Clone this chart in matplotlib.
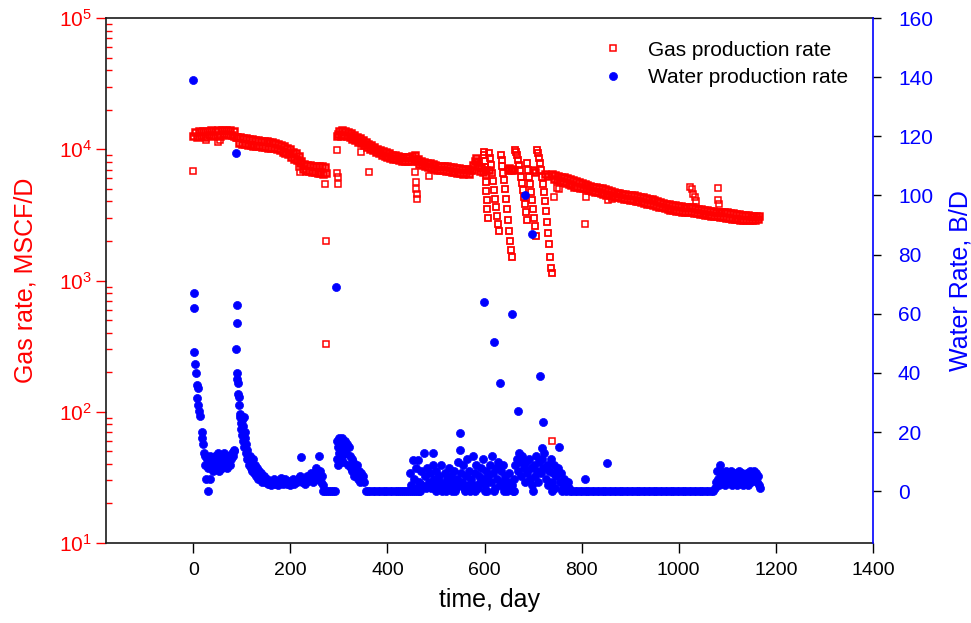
import numpy as np
import matplotlib
matplotlib.use("Agg")
import matplotlib.pyplot as plt
from matplotlib.ticker import FixedLocator, LogLocator, FuncFormatter

plt.rcParams['font.family'] = ['Liberation Sans', 'DejaVu Sans']

# ---------------- gas production (MSCF/D) ----------------
gas_trend_days = [
    0, 4, 8, 12, 16, 20, 24, 28, 32, 36, 40, 44, 48, 52, 56, 60, 64, 68, 72, 76, 80, 84, 88,
    91, 94, 97, 100, 103, 106, 109, 112, 115, 118, 121, 124, 127, 130, 133, 136, 139, 142, 145,
    148, 151, 154, 157, 160, 163, 166, 169, 172, 175, 178, 181, 184, 187, 190, 193, 196, 199,
    202, 205, 208, 211, 214, 217, 220, 223, 226, 229, 232, 235, 238, 241, 244, 247, 250, 253,
    256, 259, 262, 265, 268, 271, 274,
    297, 299, 301, 304, 307, 310, 313, 316, 319, 322, 325, 328, 331, 334, 337, 340, 343, 346,
    349, 352, 355, 358, 361, 364, 367, 370, 373, 376, 379, 382, 385, 388, 391, 394, 397, 400,
    403, 406, 409, 412, 415, 418, 421, 424, 427, 430, 433, 436, 439, 442, 445, 448, 451, 454,
    457, 460, 463, 466, 469, 472, 475, 478, 481, 484, 487, 490, 493, 496, 499, 502, 505, 508,
    511, 514, 517, 520, 523, 526, 529, 532, 535, 538, 541, 544, 547, 550, 553, 556, 559, 562,
    565, 568, 571, 574, 577, 580, 582, 584, 587, 590, 593, 596,
    603, 609, 648, 651, 654, 657, 660, 700, 703, 724, 730,
    740, 743, 746, 749, 752, 755, 758, 761, 764, 767, 770, 773, 776, 779, 782, 785, 788, 791,
    794, 797, 800, 803, 806, 809, 812, 815, 818, 821, 824, 827, 830, 833, 836, 839, 842, 845,
    848, 851, 854, 857, 860, 863, 866, 869, 872, 875, 878, 881, 884, 887, 890, 893, 896, 899,
    902, 905, 908, 911, 914, 917, 920, 923, 926, 929, 932, 935, 938, 941, 944, 947, 950, 953,
    956, 959, 962, 965, 968, 971, 974, 977, 980, 983, 986, 989, 992, 995, 998, 1001, 1004,
    1007, 1010, 1013, 1016, 1019, 1022, 1025, 1028, 1031, 1034, 1037, 1040, 1043, 1046, 1049,
    1052, 1055, 1058, 1061, 1064, 1067, 1070, 1073, 1076, 1079, 1082, 1085, 1088, 1091, 1094,
    1097, 1100, 1103, 1106, 1109, 1112, 1115, 1118, 1121, 1124, 1127, 1130, 1133, 1136, 1139,
    1142, 1145, 1148, 1151, 1154, 1157, 1160, 1163, 1166,
]
gas_trend_rate = [
    12600, 13600, 12400, 13700, 12700, 13800, 12500, 13700, 12800, 13900, 12600, 13800, 12900,
    14000, 12700, 13900, 13000, 14000, 12800, 13900, 12900, 13700, 12500,
    12300, 11100, 12300, 11000, 12200, 10900, 12100, 10800, 12000, 10700, 11900, 10600, 11800,
    10500, 11700, 10500, 11600, 10400, 11500, 10400, 11500, 10300, 11400, 10300, 11300, 10200,
    11200, 10000, 10900, 9800, 10700, 9600, 10500, 9400, 10300, 9200, 10000, 8800, 9600, 8500,
    9300, 8300, 8900, 7800, 8200, 7100, 7700, 6800, 7600, 6800, 7600, 6700, 7500, 6700, 7500,
    6600, 7400, 6600, 7400, 6500, 7300, 6600,
    12600, 13000, 13800, 12700, 13900, 12800, 13700, 12600, 13500, 12300, 13200, 12000, 12800,
    11700, 12500, 11400, 12100, 11100, 11700, 10700, 11400, 10400, 11000, 10100, 10700, 9800,
    10400, 9500, 10100, 9300, 9900, 9100, 9700, 8900, 9500, 8700, 9300, 8600, 9100, 8500, 9000,
    8400, 8900, 8300, 8800, 8200, 8800, 8200, 8700, 8100, 8700, 8100, 8900, 8500, 9000, 8200,
    8400, 7700, 8200, 7600, 8000, 7400, 7900, 7300, 7800, 7200, 7700, 7100, 7600, 7000, 7500,
    6900, 7500, 6900, 7400, 6800, 7400, 6800, 7300, 6700, 7300, 6700, 7200, 6600, 7200, 6600,
    7100, 6500, 7100, 6600, 7100, 6500, 7000, 6900, 7600, 8100, 8600, 8000, 7500, 6800, 7200,
    6700,
    6900, 7000, 7000, 7200, 6900, 7100, 7000, 6900, 6700, 6500, 6300,
    6500, 5900, 6400, 5800, 6300, 5700, 6200, 5600, 6100, 5500, 6000, 5400, 5900, 5300, 5800,
    5200, 5700, 5150, 5600, 5100, 5550, 5050, 5450, 4950, 5350, 4900, 5250, 4800, 5200, 4750,
    5150, 4700, 5100, 4650, 5050, 4600, 4950, 4500, 4900, 4450, 4850, 4400, 4750, 4350, 4650,
    4300, 4650, 4250, 4600, 4200, 4550, 4150, 4500, 4100, 4450, 4100, 4450, 4050, 4400, 4000,
    4350, 3950, 4300, 3900, 4250, 3850, 4200, 3800, 4150, 3750, 4100, 3700, 4050, 3650, 3950,
    3600, 3900, 3550, 3850, 3500, 3800, 3450, 3750, 3450, 3750, 3400, 3700, 3400, 3700, 3350,
    3650, 3350, 3650, 3300, 3600, 3300, 3600, 3250, 3550, 3250, 3500, 3200, 3500, 3200, 3450,
    3150, 3450, 3150, 3400, 3100, 3400, 3100, 3350, 3100, 3350, 3050, 3350, 3050, 3300, 3000,
    3300, 3000, 3250, 2950, 3250, 2950, 3200, 2950, 3200, 2900, 3150, 2900, 3150, 2900, 3150,
    2900, 3100, 2900, 3100, 2900, 3100, 2950, 3100,
]

# shut-in / restart cycles around day 600-740
gas_cycle_days = [
    598, 599, 600, 601, 602, 603, 604, 605, 606, 607,
    610, 612, 614, 616, 618, 620, 622, 624, 626, 628, 630,
    633, 635, 637, 639, 641, 643, 645, 647, 649, 651, 653, 655, 657,
    663, 665, 667, 669, 671, 673, 675, 677, 679, 681, 683, 685, 687,
    688, 690, 692, 694, 696, 698, 700, 702, 704, 706,
    709, 711, 713, 715, 717, 719, 721, 723, 725, 727, 729, 731, 733, 735, 737, 739,
]
gas_cycle_rate = [
    9600, 9000, 8200, 7300, 6400, 5600, 4800, 4100, 3500, 3000,
    9400, 8600, 7600, 6600, 5700, 4900, 4200, 3600, 3100, 2700, 2400,
    9000, 8300, 7500, 6600, 5800, 5000, 4200, 3500, 2900, 2400, 2000, 1700, 1500,
    9800, 9500, 9000, 8300, 7600, 6900, 6200, 5500, 4900, 4300, 3800, 3300, 2900,
    7800, 7000, 6200, 5400, 4700, 4100, 3500, 3000, 2600, 2200,
    9800, 9300, 8600, 7800, 7000, 6200, 5400, 4700, 4000, 3400, 2800, 2300, 1900, 1500,
    1250, 1150,
]

# isolated low readings
gas_spot_days = [
    0, 27, 52, 55, 84, 218, 220, 272, 273, 273, 297, 297, 298, 298, 345, 362,
    457, 458, 459, 460, 461, 486, 740, 743, 750, 753, 806, 808, 855, 862,
    1024, 1027, 1030, 1033, 1036, 1081, 1081, 1082,
]
gas_spot_rate = [
    6800, 11800, 11300, 11700, 12300, 7300, 6700, 5400, 2000, 330, 9900, 6600, 6200, 5400,
    9500, 6700, 6700, 5600, 5000, 4600, 4200, 6250, 60, 4300, 5100, 4950, 2700, 4300, 4100,
    4150, 5200, 4950, 4600, 4300, 4000, 5050, 4100, 3850,
]

# ---------------- water production (B/D) ----------------
water_early_days = [
    0, 1, 2, 1, 3, 5, 7, 9, 8, 10, 12, 14, 18, 19, 20, 22, 24, 25, 26, 28, 30, 31, 33, 34,
    35, 36, 38, 40, 41, 44, 46, 48, 50, 51, 53, 55, 57, 58, 60, 62, 63, 65, 67, 69, 70, 72,
    74, 76, 77, 79, 81, 83, 84, 88,
]
water_early_rate = [
    139, 67, 62, 47, 43, 40, 36, 35, 31.5, 29, 27, 25.5, 20, 18, 16, 13, 9, 12, 4, 11, 8, 0,
    10, 4, 12, 9, 11, 7, 10, 12, 8, 11, 10, 13, 7, 11, 9, 12, 8, 10, 13, 9, 11, 12, 8, 10,
    12, 9, 11, 13, 12, 14, 13.5, 114.5,
]

water_second_days = [
    91, 90, 89, 90, 91, 92, 93, 95, 94, 96, 97, 99, 98, 100, 102, 101, 104, 103, 106, 105,
    107, 109, 108, 110, 112, 111,
    113, 115, 117, 119, 120, 122, 124, 126, 128, 130, 132, 134, 136, 138, 140, 142, 145, 148,
    151, 154, 157, 160, 163, 166, 169, 172, 175, 178, 181, 184, 187, 190, 193, 196, 199, 202,
    205, 208, 211, 214, 217, 220, 222, 225, 228, 231, 234, 237, 240, 243, 246, 249, 252, 255,
    258, 259, 261, 263, 265, 267,
    268, 272, 276, 280, 284, 288, 292,
]
water_second_rate = [
    63, 57, 48, 40, 38, 36.5, 33, 32, 29, 26, 25, 23, 21, 24, 22, 19, 25, 17, 20, 15, 18, 16,
    13, 14, 12, 11,
    11, 9, 12, 8, 10, 7, 11, 6, 9, 5, 8, 4, 7, 5, 6, 3, 5, 3, 4, 2.5, 3.5, 2, 3, 4, 2.5, 3.5,
    2, 3, 4.5, 2.5, 3, 4, 2.5, 3.5, 2, 3, 4, 2.5, 3.5, 3, 4.5, 5, 11.5, 3, 4, 2.5, 5, 3.5, 4,
    6, 3, 5, 8, 4, 6, 12, 7, 3, 5, 2,
    0, 0, 0, 0, 0, 0, 0,
]

water_third_days = [
    295, 296, 297, 298, 299, 300, 301, 302, 303, 304, 305, 306, 307, 308, 309, 310, 312, 313,
    315, 316, 318, 320, 322, 324, 326, 328, 330, 332, 334, 336, 338, 340, 342, 344, 346, 348,
    350, 352,
    355, 360, 365, 370, 375, 380, 385, 390, 395, 400, 405, 410, 415, 420,
]
water_third_rate = [
    69, 17, 11, 15, 9, 18, 13, 16, 10, 14, 17, 12, 18, 15, 10, 16, 14, 17, 13, 16, 9, 15, 12,
    8, 11, 7, 10, 5, 8, 6, 9, 4, 7, 3, 6, 4, 5, 3,
    0, 0, 0, 0, 0, 0, 0, 0, 0, 0, 0, 0, 0, 0,
]

water_mid_days = [
    424, 428, 432, 436, 440, 444, 448, 452, 456, 460, 464, 468, 500, 520, 540, 560, 580, 600,
    620, 640, 660, 700, 740, 760,
    446, 449, 452, 455, 458, 461, 463, 466, 469, 472, 475, 477, 480, 482, 485, 488, 490, 493,
    493, 496, 498, 501, 503, 506, 508, 511, 513, 516, 518, 521, 523, 526, 528, 531, 533, 536,
    538, 541, 543, 546, 548, 549, 549, 551, 553, 556, 558, 561, 563, 566, 568, 571, 573, 576,
    578, 581, 583, 586, 588, 591, 593, 596, 598, 599, 601, 603, 606, 608, 611, 613, 616, 618,
    619, 621, 623, 626, 628, 631, 631, 633, 636, 638, 641, 643, 646, 648, 651, 653, 656, 656,
    658, 661, 663, 666, 668, 668, 671, 673, 676, 678, 681, 683, 683, 686, 688, 691, 693, 696,
    697, 698, 701, 703, 706, 708, 711, 713, 715, 716, 718, 719, 720, 721, 723, 726, 728, 731,
    733, 736, 738, 741, 743, 746, 748, 751, 753, 756, 758, 761, 763, 766, 768, 771, 773,
]
water_mid_rate = [
    0, 0, 0, 0, 0, 0, 0, 0, 0, 0, 0, 0, 0, 0, 0, 0, 0, 0, 0, 0, 0, 0, 0, 0,
    6, 2, 10.5, 4, 8, 1, 10.5, 3, 7, 2, 13, 5, 1, 8, 3, 6, 1, 12.8, 8.8, 4, 2, 7, 1, 5, 3, 9,
    0, 2, 6, 1, 4, 8, 2, 5, 0, 3, 7, 1, 4, 10, 2, 19.7, 14, 6, 3, 9, 1, 5, 11, 2, 7, 0, 4, 12,
    2, 6, 9, 1, 5, 3, 8, 11, 4, 64, 2, 7, 0, 5, 9, 3, 12, 6, 50.5, 1, 8, 4, 10, 36.6, 2, 7, 3,
    9, 1, 5, 0, 3, 6, 1, 60, 2, 0, 4, 9, 11, 27, 7, 13, 10, 5, 12, 8, 100, 3, 10, 6, 11, 4, 8,
    87, 2, 9, 5, 12, 7, 3, 10, 39, 6, 11, 14.6, 23.4, 8, 13, 4, 9, 2, 7, 11, 3, 6, 9, 1, 5, 8,
    15, 3, 6, 1, 4, 2, 0, 3, 1,
]

water_late_days = [
    776, 781, 786, 791, 796, 801, 806, 811, 816, 821, 826, 831, 836, 841, 846, 851, 856, 861,
    866, 871, 876, 881, 886, 891, 896, 901, 906, 911, 916, 921, 926, 931, 936, 941, 946, 951,
    956, 961, 966, 971, 976, 981, 986, 991, 996, 1001, 1006, 1011, 1016, 1021, 1026, 1031,
    1036, 1041, 1046, 1051, 1056, 1061, 1066, 1071, 807, 853,
    1075, 1077, 1079, 1080, 1082, 1084, 1086, 1088, 1090, 1092, 1094, 1096, 1098, 1100, 1102,
    1104, 1106, 1108, 1110, 1112, 1114, 1116, 1118, 1120, 1122, 1124, 1126, 1128, 1130, 1132,
    1134, 1136, 1138, 1140, 1142, 1144, 1146, 1148, 1150, 1152, 1154, 1156, 1158, 1160, 1162,
    1164, 1166, 1167,
]
water_late_rate = [
    0, 0, 0, 0, 0, 0, 0, 0, 0, 0, 0, 0, 0, 0, 0, 0, 0, 0, 0, 0, 0, 0, 0, 0, 0, 0, 0, 0, 0, 0,
    0, 0, 0, 0, 0, 0, 0, 0, 0, 0, 0, 0, 0, 0, 0, 0, 0, 0, 0, 0, 0, 0, 0, 0, 0, 0, 0, 0, 0, 0,
    4, 9.5,
    1, 3, 6.8, 4, 2, 9, 7, 5, 3, 6, 4, 2, 7, 5, 3, 6, 4, 7, 2, 5, 3, 6, 4, 2, 5, 7, 3, 4, 6,
    2, 5, 3, 4, 6, 2, 5, 7, 3, 4, 6, 5, 7, 4, 6, 3, 5, 2, 1,
]

water_days = (water_early_days + water_second_days + water_third_days
              + water_mid_days + water_late_days)
water_rate = (water_early_rate + water_second_rate + water_third_rate
              + water_mid_rate + water_late_rate)

x_ticks = [0, 200, 400, 600, 800, 1000, 1200, 1400]
water_ticks = [0, 20, 40, 60, 80, 100, 120, 140, 160]

RED = '#ff0000'
BLUE = '#0000ff'

fig = plt.figure(figsize=(9.71, 6.23), dpi=100)
ax = fig.add_axes([0.109, 0.1284, 0.790, 0.8427])
ax2 = ax.twinx()

# dense daily readings overlap into a solid band, so draw their outlines heavier
gas_style = dict(ls='none', marker='s', ms=4.6, mfc='none', mec=RED)
ax.plot(gas_trend_days, gas_trend_rate, mew=1.8, **gas_style)
ax.plot(gas_cycle_days, gas_cycle_rate, mew=1.3, **gas_style)
g, = ax.plot(gas_spot_days, gas_spot_rate, mew=1.1, label='Gas production rate', **gas_style)
w, = ax2.plot(water_days, water_rate, ls='none', marker='o', ms=5.8, mfc=BLUE,
              mec=BLUE, mew=0.5, label='Water production rate')

ax.set_yscale('log')
ax.set_ylim(10, 1e5)
ax.set_xlim(-180, 1400)
ax2.set_ylim(-17.5, 160)

ax.xaxis.set_major_locator(FixedLocator(x_ticks))
ax.yaxis.set_major_locator(LogLocator(base=10))
ax.yaxis.set_minor_locator(LogLocator(base=10, subs=np.arange(2, 10)))
ax.yaxis.set_major_formatter(FuncFormatter(lambda v, p: r'$\mathregular{10^{%d}}$' % round(np.log10(v))))
ax.yaxis.set_minor_formatter(FuncFormatter(lambda v, p: ''))
ax2.yaxis.set_major_locator(FixedLocator(water_ticks))

ax.tick_params(axis='x', which='major', direction='out', length=7, width=1,
               colors='black', labelsize=14, pad=7)
ax.tick_params(axis='y', which='major', direction='out', length=7, width=1,
               color=RED, labelcolor=RED, labelsize=15, pad=3)
ax.tick_params(axis='y', which='minor', direction='in', length=4, width=1, color=RED)
ax2.tick_params(axis='y', which='major', direction='out', length=6, width=1,
                color='black', labelcolor=BLUE, labelsize=15, pad=12)

for s in ['left', 'top', 'bottom']:
    ax.spines[s].set_color('#1a1a1a')
    ax.spines[s].set_linewidth(1.2)
    ax2.spines[s].set_visible(False)
ax.spines['right'].set_visible(False)
ax2.spines['right'].set_color(BLUE)
ax2.spines['right'].set_linewidth(1.2)

ax.set_xlabel('time, day', fontsize=18, labelpad=6)
ax.set_ylabel('Gas rate, MSCF/D', fontsize=18, color=RED, labelpad=15)
ax2.set_ylabel('Water Rate, B/D', fontsize=18, color=BLUE, labelpad=11)

ax2.legend(handles=[g, w], loc='upper left', bbox_to_anchor=(0.601, 0.965),
           bbox_transform=fig.transFigure, frameon=False, fontsize=15,
           handlelength=1.0, handletextpad=1.2, labelspacing=0.4, borderpad=0.4)

fig.savefig('out.png', dpi=100)
